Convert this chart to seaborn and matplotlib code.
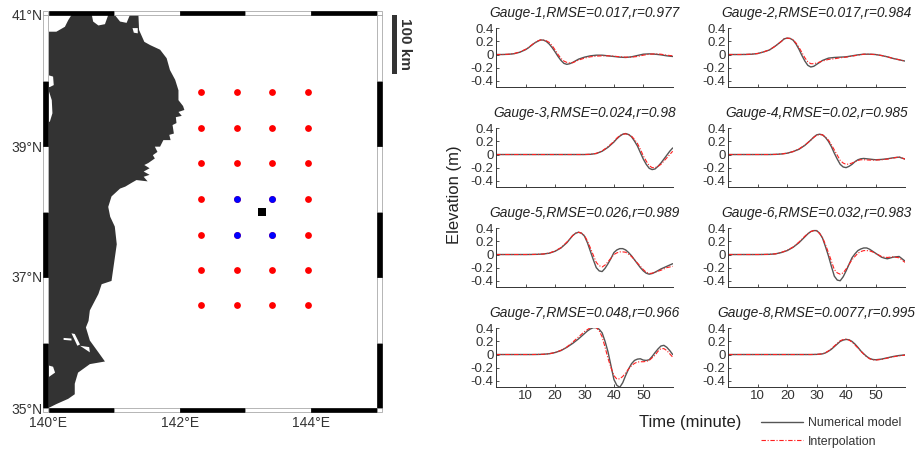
import numpy as np
import seaborn as sns
import matplotlib
matplotlib.use("Agg")
import matplotlib.pyplot as plt
from matplotlib.lines import Line2D
from matplotlib.patches import Rectangle

sns.set_style("white")
plt.rcParams['font.family'] = ['Liberation Sans', 'DejaVu Sans']

W, H = 917, 449

# coast of the land mass, lon / lat
coast_lon = [140.0, 140.12, 140.25, 140.30, 140.35, 140.66, 140.68, 140.76, 140.86, 140.91,
             141.01, 141.09, 141.19, 141.24, 141.37, 141.38, 141.46, 141.55, 141.70, 141.80,
             141.85, 141.93, 141.98, 141.98, 142.05, 142.07, 141.98, 142.03, 141.94, 141.95,
             141.89, 141.91, 141.84, 141.86, 141.75, 141.70, 141.62, 141.66, 141.59, 141.62,
             141.52, 141.46, 141.54, 141.45, 141.54, 141.45, 141.51, 141.34, 141.27, 141.17,
             141.09, 140.96, 140.91, 140.94, 141.01,
             141.04, 140.99, 140.96, 140.81, 140.76, 140.63, 140.61, 140.57, 140.63, 140.76,
             140.86, 140.63, 140.45, 140.40, 140.40, 140.30, 140.12, 140.0,
             140.0, 140.10, 140.07, 140.0,
             140.0, 140.02, 140.06, 140.05, 140.0,
             140.0, 140.02, 140.08, 140.07, 140.0]
coast_lat = [40.745, 40.745, 40.82, 40.92, 41.0, 41.0, 40.90, 40.84, 40.86, 41.0,
             41.0, 40.90, 40.88, 41.0, 41.0, 40.77, 40.59, 40.54, 40.47, 40.34,
             40.16, 40.01, 39.85, 39.70, 39.61, 39.55, 39.52, 39.46, 39.44, 39.35,
             39.32, 39.19, 39.17, 39.09, 39.09, 38.99, 38.99, 38.91, 38.86, 38.81,
             38.74, 38.71, 38.66, 38.61, 38.56, 38.53, 38.46, 38.48, 38.44, 38.38,
             38.35, 38.23, 38.07, 37.92, 37.77,
             37.50, 37.15, 36.94, 36.89, 36.74, 36.49, 36.33, 36.23, 36.03, 35.85,
             35.71, 35.67, 35.54, 35.37, 35.21, 35.14, 35.06, 35.0,
             35.47, 35.54, 35.63, 35.65,
             39.37, 39.37, 39.50, 39.70, 39.855,
             39.90, 39.90, 39.93, 40.06, 40.08]
lake_a_lon = [140.23, 140.35, 140.35, 140.23]
lake_a_lat = [36.07, 36.06, 36.03, 36.04]
lake_b_lon = [140.35, 140.40, 140.48, 140.44]
lake_b_lat = [36.14, 36.13, 35.97, 35.95]
lake_c_lon = [140.48, 140.62, 140.63, 140.57]
lake_c_lat = [35.95, 35.93, 35.85, 35.89]
lake_d_lon = [141.28, 141.36, 141.36, 141.30]
lake_d_lat = [40.80, 40.80, 40.72, 40.73]

grid_lon = [142.33, 142.87, 143.41, 143.95]
grid_lat = [39.82, 39.27, 38.74, 38.19, 37.64, 37.10, 36.57]
near_lon = [142.87, 143.41, 142.87, 143.41]
near_lat = [38.19, 38.19, 37.64, 37.64]
target_lon = [143.26]
target_lat = [38.0]

times = list(range(0, 61, 2))

titles = ["Gauge-1,RMSE=0.017,r=0.977", "Gauge-2,RMSE=0.017,r=0.984",
          "Gauge-3,RMSE=0.024,r=0.98", "Gauge-4,RMSE=0.02,r=0.985",
          "Gauge-5,RMSE=0.026,r=0.989", "Gauge-6,RMSE=0.032,r=0.983",
          "Gauge-7,RMSE=0.048,r=0.966", "Gauge-8,RMSE=0.0077,r=0.995"]

num1 = [0, 0, .003, .012, .035, .075, .14, .2, .22, .16, .04, -.09, -.15, -.12, -.07, -.04,
        -.02, -.01, -.01, -.02, -.03, -.04, -.045, -.035, -.015, .005, .01, .005, -.005, -.02, -.03]
int1 = [0, 0, .004, .014, .04, .08, .145, .205, .22, .185, .07, -.06, -.12, -.125, -.085, -.055,
        -.035, -.025, -.02, -.02, -.025, -.035, -.04, -.04, -.03, -.01, .005, .01, .005, -.01, -.02]
num2 = [0, 0, 0, .001, .005, .015, .04, .07, .13, .2, .25, .22, .08, -.1, -.19, -.15,
        -.09, -.055, -.045, -.04, -.035, -.02, -.005, .005, .005, 0, -.015, -.035, -.06, -.08, -.1]
int2 = [0, 0, 0, .002, .006, .016, .04, .072, .13, .2, .25, .225, .11, -.05, -.14, -.13,
        -.1, -.075, -.065, -.05, -.04, -.025, -.01, .005, .005, 0, -.015, -.035, -.06, -.08, -.1]
num3 = [0, 0, 0, 0, 0, 0, 0, 0, 0, 0, 0, 0, 0, 0, 0, 0,
        .003, .015, .05, .11, .19, .28, .32, .27, .13, -.07, -.21, -.22, -.13, -.01, .1]
int3 = [0, 0, 0, 0, 0, 0, 0, 0, 0, 0, 0, 0, 0, 0, 0, 0,
        .004, .018, .055, .12, .2, .29, .315, .28, .17, -.02, -.17, -.2, -.15, -.05, .05]
num4 = [0, 0, 0, 0, 0, 0, 0, 0, .002, .008, .02, .045, .08, .14, .22, .3,
        .3, .2, .02, -.15, -.2, -.15, -.08, -.06, -.07, -.08, -.075, -.065, -.05, -.04, -.07]
int4 = [0, 0, 0, 0, 0, 0, 0, 0, .002, .008, .02, .045, .085, .145, .22, .295,
        .3, .22, .07, -.09, -.15, -.13, -.09, -.08, -.085, -.085, -.08, -.07, -.055, -.035, -.07]
num5 = [0, 0, 0, 0, 0, 0, .001, .003, .008, .02, .05, .1, .18, .29, .34, .28,
        .05, -.2, -.26, -.14, .03, .09, .07, -.02, -.14, -.25, -.3, -.27, -.22, -.18, -.14]
int5 = [0, 0, 0, 0, 0, 0, .001, .003, .008, .022, .055, .105, .19, .29, .34, .29,
        .1, -.12, -.19, -.11, 0, .04, .035, -.03, -.13, -.23, -.29, -.27, -.24, -.2, -.18]
num6 = [0, 0, 0, 0, 0, 0, .001, .003, .01, .03, .06, .11, .18, .27, .35, .365,
        .25, -.02, -.33, -.4, -.25, -.05, .06, .1, .08, .02, -.04, -.065, -.04, -.03, -.1]
int6 = [0, 0, 0, 0, 0, 0, .001, .003, .01, .032, .065, .115, .19, .28, .35, .36,
        .26, .03, -.23, -.3, -.22, -.08, .02, .06, .055, .015, -.03, -.045, -.035, -.05, -.12]
num7 = [0, 0, 0, 0, 0, 0, 0, .001, .004, .012, .03, .06, .11, .17, .24, .32,
        .39, .41, .33, .04, -.38, -.5, -.32, -.14, -.07, -.085, -.08, .03, .13, .11, 0]
int7 = [0, 0, 0, 0, 0, 0, 0, .001, .004, .012, .03, .065, .115, .19, .27, .35,
        .41, .41, .27, -.06, -.32, -.37, -.28, -.17, -.115, -.11, -.09, -.01, .09, .06, -.04]
num8 = [0, 0, 0, 0, 0, 0, 0, 0, 0, 0, 0, 0, 0, 0, 0, .002,
        .01, .05, .12, .2, .23, .2, .11, .01, -.06, -.08, -.07, -.05, -.03, -.015, -.005]
int8 = [0, 0, 0, 0, 0, 0, 0, 0, 0, 0, 0, 0, 0, 0, 0, .002,
        .01, .055, .13, .21, .235, .19, .1, .005, -.065, -.085, -.075, -.055, -.035, -.02, -.01]

# odd minutes read where the curves bend fast
odd1 = [11, 13, 15, 17, 19, 21, 23, 25, 27]
odd_num1 = [.105, .175, .222, .2, .105, -.03, -.135, -.14, -.095]
odd_int1 = [.11, .178, .222, .21, .135, 0, -.1, -.128, -.105]
odd2 = [15, 17, 19, 21, 23, 25, 27, 29, 31]
odd_num2 = [.1, .165, .24, .245, .16, -.015, -.165, -.18, -.12]
odd_int2 = [.1, .165, .24, .245, .175, .03, -.11, -.14, -.115]
odd3 = [39, 41, 43, 45, 47, 49, 51, 53, 55, 57, 59]
odd_num3 = [.15, .24, .31, .305, .205, .03, -.15, -.23, -.18, -.07, .05]
odd_int3 = [.16, .25, .31, .305, .23, .08, -.1, -.2, -.18, -.1, 0]
odd4 = [27, 29, 31, 33, 35, 37, 39, 41, 43, 45]
odd_num4 = [.18, .265, .31, .26, .12, -.07, -.19, -.18, -.11, -.065]
odd_int4 = [.18, .26, .305, .265, .15, -.01, -.13, -.145, -.11, -.08]
odd5 = [25, 27, 29, 31, 33, 35, 37, 39, 41, 43, 45, 47, 49, 51, 53]
odd_num5 = [.235, .325, .325, .18, -.08, -.25, -.21, -.06, .07, .09, .03, -.08, -.2, -.285, -.29]
odd_int5 = [.24, .325, .325, .205, -.01, -.17, -.16, -.055, .025, .04, .005, -.08, -.18, -.27, -.285]
odd6 = [25, 27, 29, 31, 33, 35, 37, 39, 41, 43, 45, 47, 49, 51, 53]
odd_num6 = [.225, .315, .365, .325, .12, -.18, -.39, -.34, -.15, .01, .085, .1, .05, -.01, -.055]
odd_int6 = [.235, .32, .365, .32, .15, -.1, -.28, -.28, -.15, -.03, .045, .06, .04, -.005, -.04]
odd7 = [31, 33, 35, 37, 39, 41, 43, 45, 47, 49, 51, 53, 55, 57, 59]
odd_num7 = [.36, .41, .385, .2, -.17, -.47, -.43, -.22, -.09, -.065, -.09, -.03, .085, .14, .06]
odd_int7 = [.38, .415, .36, .11, -.2, -.375, -.335, -.22, -.135, -.11, -.105, -.05, .05, .09, .01]
odd8 = [33, 35, 37, 39, 41, 43, 45, 47, 49]
odd_num8 = [.025, .08, .16, .22, .225, .16, .055, -.03, -.075]
odd_int8 = [.028, .09, .17, .228, .22, .145, .05, -.035, -.08]

numerical = [num1, num2, num3, num4, num5, num6, num7, num8]
interpolation = [int1, int2, int3, int4, int5, int6, int7, int8]
odd_times = [odd1, odd2, odd3, odd4, odd5, odd6, odd7, odd8]
odd_numerical = [odd_num1, odd_num2, odd_num3, odd_num4, odd_num5, odd_num6, odd_num7, odd_num8]
odd_interpolation = [odd_int1, odd_int2, odd_int3, odd_int4, odd_int5, odd_int6, odd_int7, odd_int8]

y_ticks = [-0.4, -0.2, 0, 0.2, 0.4]
y_labels = ["-0.4", "-0.2", "0", "0.2", "0.4"]
x_ticks = [10, 20, 30, 40, 50]


def px_axes(fig, left, top, right, bottom):
    return fig.add_axes([left / W, 1 - bottom / H, (right - left) / W, (bottom - top) / H])


fig = plt.figure(figsize=(W / 100, H / 100), dpi=100)

# map
ax = px_axes(fig, 48.5, 15, 376.7, 408)
ax.fill(coast_lon, coast_lat, color="#333333", lw=0)
ax.fill(lake_a_lon, lake_a_lat, color="white", lw=0)
ax.fill(lake_b_lon, lake_b_lat, color="white", lw=0)
ax.fill(lake_c_lon, lake_c_lat, color="white", lw=0)
ax.fill(lake_d_lon, lake_d_lat, color="white", lw=0)

lon_mesh, lat_mesh = np.meshgrid(grid_lon, grid_lat)
sns.scatterplot(x=lon_mesh.ravel(), y=lat_mesh.ravel(), color="#ff0000", s=24, linewidth=0, ax=ax, zorder=3)
sns.scatterplot(x=near_lon, y=near_lat, color="#0000ff", s=24, linewidth=0, ax=ax, zorder=4)
sns.scatterplot(x=target_lon, y=target_lat, color="black", marker="s", s=26, linewidth=0, ax=ax, zorder=5)

ax.set_xlim(140, 145)
ax.set_ylim(35, 41)
ax.set_xticks([140, 142, 144])
ax.set_xticklabels(["140°E", "142°E", "144°E"], fontsize=10, color="#333333")
ax.set_yticks([35, 37, 39, 41])
ax.set_yticklabels(["35°N", "37°N", "39°N", "41°N"], fontsize=10, color="#333333")
ax.tick_params(axis="x", length=0, pad=6)
ax.tick_params(axis="y", length=0, pad=4.5)
for s in ax.spines.values():
    s.set_visible(False)

# checkered frame round the map
bar_x, bar_y = 0.078, 0.06
for i, lon0 in enumerate(range(140, 145)):
    fc = "black" if i % 2 == 0 else "white"
    for y0 in (35 - bar_y, 41):
        ax.add_patch(Rectangle((lon0, y0), 1, bar_y, fc=fc, ec="black" if fc == "black" else "#999999",
                               lw=0.5, clip_on=False))
for i, lat0 in enumerate(range(35, 41)):
    fc = "black" if i % 2 == 0 else "white"
    for x0 in (140 - bar_x, 145):
        ax.add_patch(Rectangle((x0, lat0), bar_x, 1, fc=fc, ec="black" if fc == "black" else "#999999",
                               lw=0.5, clip_on=False))
for x0 in (140 - bar_x, 145):
    for y0 in (35 - bar_y, 41):
        ax.add_patch(Rectangle((x0, y0), bar_x, bar_y, fc="white", ec="#999999", lw=0.5, clip_on=False))

# scale bar
fig.patches.append(Rectangle((391.7 / W, 1 - 74 / H), 5.6 / W, 59.3 / H, fc="#333333", ec="none",
                             transform=fig.transFigure))
fig.text(405 / W, 1 - 44 / H, "100 km", rotation=270, ha="center", va="center",
         fontsize=11, fontweight="bold", color="#333333")

# gauge panels
col_left = [(496.3, 672.7), (728.3, 905.0)]
row_top = [28.3, 128.3, 228.3, 328.3]
dash = (0, (4, 1.5, 1, 1.5))
for k in range(8):
    row, col = k // 2, k % 2
    a = px_axes(fig, col_left[col][0], row_top[row], col_left[col][1], row_top[row] + 59)
    t = times + odd_times[k]
    sns.lineplot(x=t, y=numerical[k] + odd_numerical[k], color="#555555", lw=1.0, ax=a, estimator=None)
    sns.lineplot(x=t, y=interpolation[k] + odd_interpolation[k], color="#ff2020", lw=0.8, ax=a,
                 estimator=None, linestyle=dash)
    a.set_xlim(0, 60)
    a.set_ylim(-0.5, 0.4)
    a.set_yticks(y_ticks)
    a.set_yticklabels(y_labels)
    a.set_xticks(x_ticks)
    a.set_xticklabels([str(v) for v in x_ticks] if row == 3 else [])
    a.tick_params(direction="in", length=2.5, width=0.6, color="#333333", labelsize=9.5,
                  labelcolor="#333333", pad=2, left=True, bottom=True)
    a.spines["top"].set_visible(False)
    a.spines["right"].set_visible(False)
    a.spines["left"].set_color("#333333")
    a.spines["bottom"].set_color("#333333")
    a.spines["left"].set_linewidth(0.7)
    a.spines["bottom"].set_linewidth(0.7)
    a.patch.set_alpha(0)
    a.set_title(titles[k], fontsize=9.9, style="italic", color="#222222", pad=8)

fig.text(454 / W, 1 - 195 / H, "Elevation (m)", rotation=90, ha="center", va="center",
         fontsize=12, color="#222222")
fig.text(690 / W, 1 - 423 / H, "Time (minute)", ha="center", va="center", fontsize=12, color="#222222")

handles = [Line2D([], [], color="#555555", lw=1.0),
           Line2D([], [], color="#ff2020", lw=0.8, linestyle=dash)]
fig.legend(handles, ["Numerical model", "Interpolation"], loc="upper left",
           bbox_to_anchor=(761 / W, 1 - 417 / H), frameon=False, fontsize=8.9, labelcolor="#333333",
           handlelength=3.4, handletextpad=0.4, labelspacing=0.55, borderpad=0, borderaxespad=0)

fig.savefig("out.png", dpi=100)
